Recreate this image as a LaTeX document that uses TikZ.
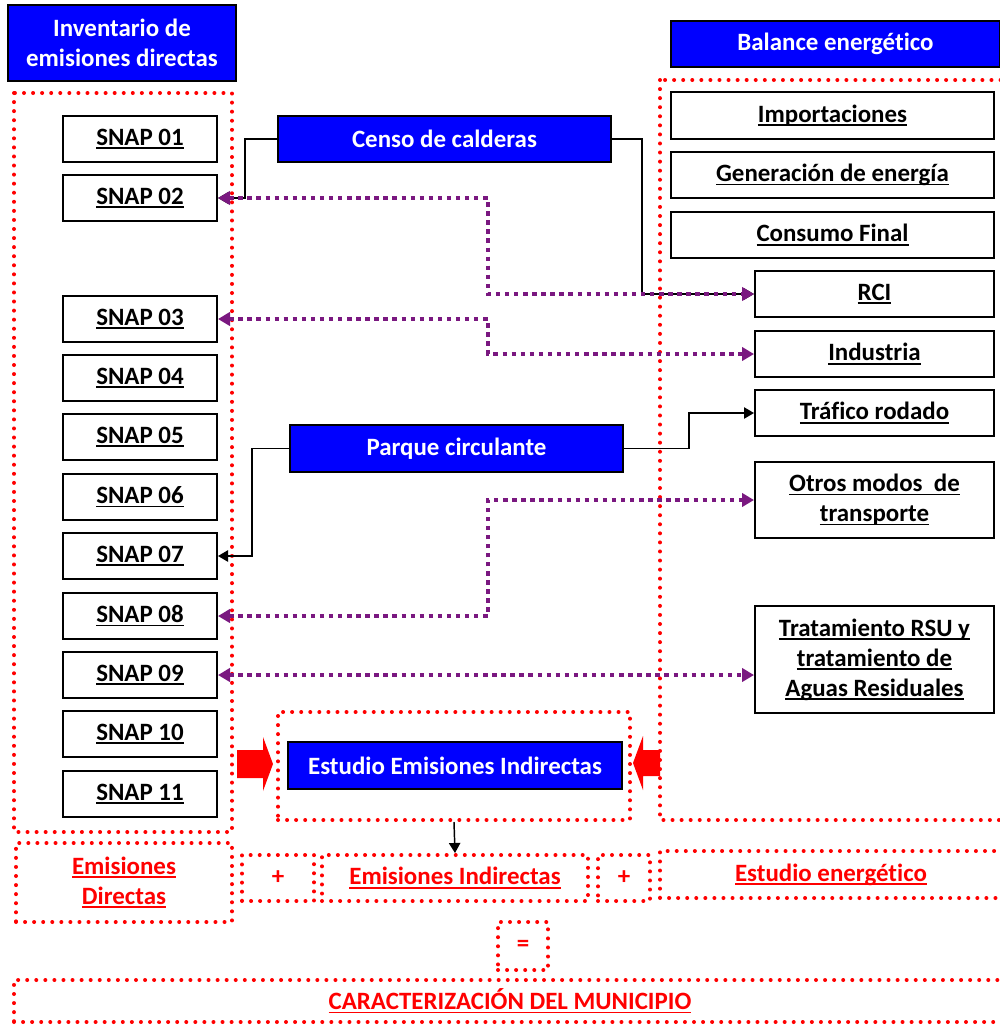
\documentclass[tikz,border=0pt]{standalone}
\usepackage{fontspec}
\setmainfont{Carlito}[Ligatures=NoCommon]
\usetikzlibrary{arrows.meta}
\definecolor{pblue}{RGB}{0,0,255}
\definecolor{pred}{RGB}{255,0,0}
\definecolor{ppurple}{RGB}{122,24,128}
\newcommand\ulx[1]{\setbox0\hbox{#1}\rlap{\rule[-2.7pt]{\wd0}{1.3pt}}\box0}
\newcommand\boxat[7]{\node[#1, minimum width={(#5-#3)*0.75pt}, minimum height={(#6-#4)*0.75pt}] (#2) at ({(#3+#5)/2},{(#4+#6)/2}) {#7};}
\begin{document}
\begin{tikzpicture}[x=0.75pt,y=-0.75pt,
  txt/.style={font=\bfseries\fontsize{18.7}{22.5}\selectfont, align=center, inner sep=0pt},
  bluebox/.style={txt, draw=black, line width=1.5pt, fill=pblue, text=white},
  wbox/.style={txt, draw=black, line width=1.5pt, fill=white, text=black},
  rdot/.style={draw=pred, line width=3pt, dash pattern=on 0pt off 6.8pt, line cap=round},
  rbox/.style={txt, rdot, text=pred},
  conn/.style={draw=black, line width=1.1pt, -{Triangle[length=7.5pt,width=8.5pt]}},
  pconn/.style={draw=ppurple, line width=3.4pt, dash pattern=on 3.3pt off 3.5pt,
     {Triangle[length=9pt,width=10pt]}-{Triangle[length=9pt,width=10pt]}}]
\useasboundingbox (0,0) rectangle (1000,1026);
\clip (0,0) rectangle (1000,1026);
% group frames
\draw[rdot] (14,93) rectangle (232,832);
\draw[rdot] (660,80) rectangle (1006,820);
% headers
\boxat{bluebox}{inv}{8}{5}{236}{81}{Inventario de\\emisiones directas}
\boxat{bluebox}{bal}{671}{21}{1000}{67}{Balance energético}
% SNAP boxes
\boxat{wbox}{s01}{63}{116}{217}{162}{\ulx{SNAP 01}}
\boxat{wbox}{s02}{63}{175}{217}{221}{\ulx{SNAP 02}}
\boxat{wbox}{s03}{63}{296}{217}{342}{\ulx{SNAP 03}}
\boxat{wbox}{s04}{63}{355}{217}{401}{\ulx{SNAP 04}}
\boxat{wbox}{s05}{63}{414}{217}{460}{\ulx{SNAP 05}}
\boxat{wbox}{s06}{63}{474}{217}{520}{\ulx{SNAP 06}}
\boxat{wbox}{s07}{63}{533}{217}{579}{\ulx{SNAP 07}}
\boxat{wbox}{s08}{63}{593}{217}{639}{\ulx{SNAP 08}}
\boxat{wbox}{s09}{63}{652}{217}{698}{\ulx{SNAP 09}}
\boxat{wbox}{s10}{63}{711}{217}{757}{\ulx{SNAP 10}}
\boxat{wbox}{s11}{63}{771}{217}{817}{\ulx{SNAP 11}}
% right boxes
\boxat{wbox}{imp}{671}{92}{994}{139}{\ulx{Importaciones}}
\boxat{wbox}{gen}{671}{152}{994}{198}{\ulx{Generación de energía}}
\boxat{wbox}{cons}{671}{212}{994}{258}{\ulx{Consumo Final}}
\boxat{wbox}{rci}{755}{271}{994}{317}{\ulx{RCI}}
\boxat{wbox}{ind}{755}{331}{994}{377}{\ulx{Industria}}
\boxat{wbox}{traf}{755}{390}{994}{436}{\ulx{Tráfico rodado}}
\boxat{wbox}{otros}{755}{462}{994}{538}{\ulx{Otros modos \ de}\\\ulx{transporte}}
\boxat{wbox}{trat}{755}{606}{994}{713}{\ulx{Tratamiento RSU y}\\\ulx{tratamiento de}\\\ulx{Aguas Residuales}}
% middle blue boxes
\boxat{bluebox}{censo}{278}{116}{611}{162}{Censo de calderas}
\boxat{bluebox}{parque}{290}{425}{623}{472}{Parque circulante}
\boxat{rbox}{estframe}{278}{712}{630}{820}{}
\boxat{bluebox}{estudio}{288}{742}{622}{789}{Estudio Emisiones Indirectas}
% red block arrows
\fill[pred] (237,750) -- (263,750) -- (263,737) -- (273,764) -- (263,791) -- (263,778) -- (237,778) -- cycle;
\fill[pred] (660,750) -- (643,750) -- (643,736) -- (633,763) -- (643,790) -- (643,776) -- (660,776) -- cycle;
% bottom row
\boxat{rbox}{ed}{16}{843}{232}{922}{\ulx{Emisiones}\\\ulx{Directas}}
\boxat{rbox}{plus1}{242}{855}{314}{901}{+}
\boxat{rbox}{ei}{322}{855}{588}{901}{\ulx{Emisiones Indirectas}}
\boxat{rbox}{plus2}{598}{855}{650}{901}{+}
\node[rbox, minimum width={343*0.75pt}, minimum height={47*0.75pt}] (ee) at (831.5,874.5) {};
\node[txt, text=pred] at (831,874.5) {\ulx{Estudio energético}};
\boxat{rbox}{eq}{498}{922}{548}{970}{=}
\node[rbox, minimum width={992*0.75pt}, minimum height={42*0.75pt}] (car) at (510,1001) {};
\node[txt, text=pred] at (510,1001) {\ulx{CARACTERIZACIÓN DEL MUNICIPIO}};
% connectors (black)
\draw[conn] (censo.west) -- ++(-32,0) |- (s02.east);
\draw[conn] (censo.east) -- ++(30,0) |- (rci.west);
\draw[conn] (parque.west) -- ++(-37,0) |- (s07.east);
\draw[conn] (parque.east) -- ++(65,0) |- (traf.west);
\draw[conn] (estframe.south) -- (ei.north);
% purple dotted connectors
\draw[pconn] (s02.east) -- ++(270,0) |- (rci.west);
\draw[pconn] (s03.east) -- ++(270,0) |- (ind.west);
\draw[pconn] (s08.east) -- ++(270,0) |- (otros.west);
\draw[pconn] (s09.east) -- (trat.west |- s09.east);
\end{tikzpicture}
\end{document}
